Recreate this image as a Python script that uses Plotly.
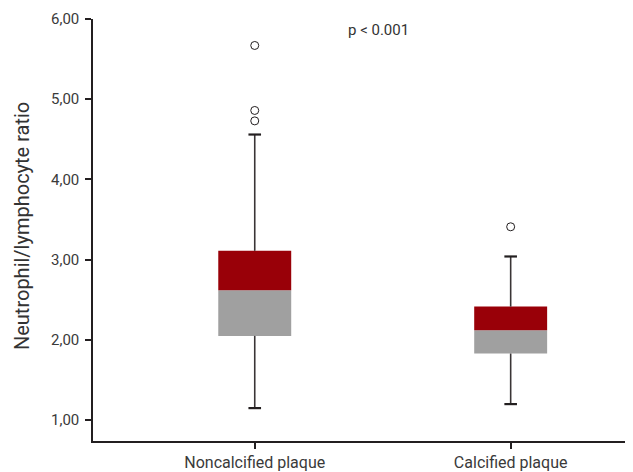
import plotly.graph_objects as go

categories = ["Noncalcified plaque", "Calcified plaque"]
q1 = [2.05, 1.83]
median = [2.62, 2.12]
q3 = [3.11, 2.415]
lower_whisker = [1.15, 1.20]
upper_whisker = [4.56, 3.04]
outliers = [[5.67, 4.86, 4.73], [3.41]]
y_ticks = [1, 2, 3, 4, 5, 6]
y_tick_labels = ["1,00", "2,00", "3,00", "4,00", "5,00", "6,00"]
p_text = "p < 0.001"

RED = "#990008"
GRAY = "#a0a0a0"
DARK = "#231f20"
FONT = "Roboto, Arial, sans-serif"

xs = list(range(len(categories)))
fig = go.Figure()

# whiskers
for i in xs:
    fig.add_trace(go.Scatter(x=[i, i], y=[q3[i], upper_whisker[i]], mode="lines",
                             line=dict(color="#3a3536", width=1.6), showlegend=False, hoverinfo="skip"))
    fig.add_trace(go.Scatter(x=[i, i], y=[lower_whisker[i], q1[i]], mode="lines",
                             line=dict(color="#3a3536", width=1.6), showlegend=False, hoverinfo="skip"))

# lower half of box (Q1 -> median)
fig.add_trace(go.Bar(x=xs, y=[m - a for m, a in zip(median, q1)], base=q1, width=0.285,
                     marker=dict(color=GRAY, line=dict(width=0)), showlegend=False))
# upper half of box (median -> Q3)
fig.add_trace(go.Bar(x=xs, y=[b - m for b, m in zip(q3, median)], base=median, width=0.285,
                     marker=dict(color=RED, line=dict(width=0)), showlegend=False))

# caps
fig.add_trace(go.Scatter(x=xs + xs, y=lower_whisker + upper_whisker, mode="markers",
                         marker=dict(symbol="line-ew", size=9, line=dict(color=DARK, width=2.2)),
                         showlegend=False, hoverinfo="skip"))

# outliers
ox, oy = [], []
for i in xs:
    for v in outliers[i]:
        ox.append(i)
        oy.append(v)
fig.add_trace(go.Scatter(x=ox, y=oy, mode="markers",
                         marker=dict(symbol="circle-open", size=8, color=DARK, line=dict(width=1)),
                         showlegend=False, cliponaxis=False))

fig.add_annotation(x=0.485, y=5.86, text=p_text, showarrow=False,
                   font=dict(family=FONT, size=15, color="#333333"))
fig.add_annotation(xref="paper", yref="paper", x=-0.131, y=0.51, xanchor="center", yanchor="middle",
                   text="Neutrophil/lymphocyte ratio",
                   textangle=-90, showarrow=False, font=dict(family=FONT, size=20, color="#333333"))

fig.update_layout(
    width=625, height=464,
    margin=dict(l=85, r=0, t=11, b=29),
    plot_bgcolor="white", paper_bgcolor="white",
    barmode="overlay",
    font=dict(family=FONT, size=14, color="#3a3a3a"),
    xaxis=dict(range=[-0.632, 1.478], tickmode="array", tickvals=xs, ticktext=categories,
               showgrid=False, zeroline=False, showline=True, linecolor=DARK, linewidth=1.5,
               ticks="outside", ticklen=6, tickwidth=1.5, tickcolor=DARK,
               tickfont=dict(size=16)),
    yaxis=dict(range=[0.74, 6.0], tickmode="array", tickvals=y_ticks, ticktext=y_tick_labels,
               showgrid=False, zeroline=False, showline=True, linecolor=DARK, linewidth=1.5,
               ticks="outside", ticklen=6, tickwidth=1.5, tickcolor=DARK,
               ticklabelstandoff=3, tickfont=dict(size=15)),
)

fig.write_html("out.html")
